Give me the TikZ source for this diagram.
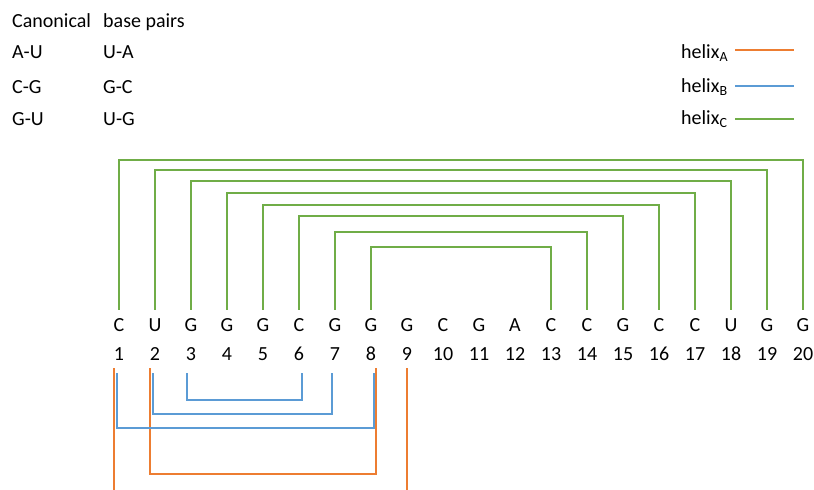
\documentclass[tikz,border=0pt]{standalone}
\usepackage{fontspec}
\setmainfont{Carlito}
\definecolor{hA}{HTML}{ED7D31}
\definecolor{hB}{HTML}{5B9BD5}
\definecolor{hC}{HTML}{70AD47}
\begin{document}
\begin{tikzpicture}[x=1pt,y=-1pt,
  font=\fontsize{20}{24}\selectfont,
  lbl/.style={inner sep=0pt, anchor=base west},
  nuc/.style={inner xsep=0pt, inner ysep=8pt, text height=13pt, text depth=0pt, anchor=base},
  gline/.style={hC, line width=2pt},
  bline/.style={hB, line width=2pt},
  oline/.style={hA, line width=2pt},
  legline/.style={line width=2.3pt}]
\useasboundingbox (0,0) rectangle (814,490);

% legend of canonical pairs
\node[lbl] (t0) at (12,27) {Canonical};
\node[lbl] (t1) at (103,27) {base pairs};
\node[lbl] (p1) at (12,58) {A-U};
\node[lbl] (q1) at (103,58) {U-A};
\node[lbl] (p2) at (12,93) {C-G};
\node[lbl] (q2) at (103,93) {G-C};
\node[lbl] (p3) at (12,125) {G-U};
\node[lbl] (q3) at (103,125) {U-G};

% helix legend
\node[lbl] (lA) at (681,58) {helix\textsubscript{A}};
\node[lbl] (lB) at (681,92) {helix\textsubscript{B}};
\node[lbl] (lC) at (681,124) {helix\textsubscript{C}};
\coordinate (a1) at (735,50); \coordinate (a2) at (794,50);
\coordinate (c1) at (735,86); \coordinate (c2) at (794,86);
\coordinate (d1) at (735,119); \coordinate (d2) at (794,119);
\draw[legline,hA] (a1) -- (a2);
\draw[legline,hB] (c1) -- (c2);
\draw[legline,hC] (d1) -- (d2);

% sequence
\foreach \s [count=\i] in {C,U,G,G,G,C,G,G,G,C,G,A,C,C,G,C,C,U,G,G} {
  \node[nuc] (b\i) at ({119+36*(\i-1)},331) {\s};
  \node[nuc] (n\i) at ({119+36*(\i-1)},360) {\i};
}

% helix C (green)
\foreach \l/\r/\y in {1/20/160, 2/19/170, 3/18/181, 4/17/193, 5/16/205, 6/15/216, 7/14/232, 8/13/247}
  \draw[gline] (b\l.north) -- (b\l.north |- 0,\y) -| (b\r.north);

% helix A (orange)
\draw[oline] ([xshift=-5pt]n1.south) -- ++(0,122);
\draw[oline] (n9.south) -- ++(0,122);
\draw[oline] ([xshift=-5pt]n2.south) -- ++(0,106) -| ([xshift=5pt]n8.south);

% helix B (blue)
\draw[bline] ([xshift=-4pt,yshift=-5pt]n3.south) -- ++(0,27) -| ([xshift=3pt,yshift=-5pt]n6.south);
\draw[bline] ([xshift=-2pt,yshift=-5pt]n2.south) -- ++(0,41) -| ([xshift=-3pt,yshift=-5pt]n7.south);
\draw[bline] ([xshift=-2pt,yshift=-5pt]n1.south) -- ++(0,55) -| ([xshift=3pt,yshift=-5pt]n8.south);
\end{tikzpicture}
\end{document}
